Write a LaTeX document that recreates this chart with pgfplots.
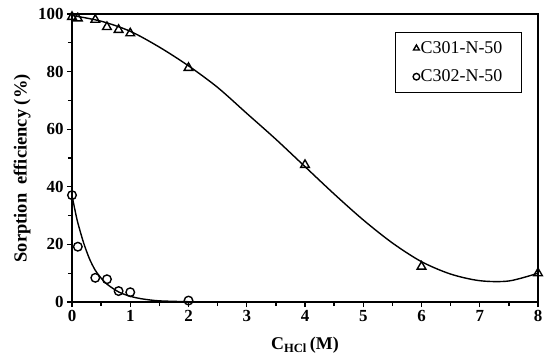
\documentclass[border=0pt]{standalone}
\usepackage{fontspec}
\setmainfont{Liberation Serif}
\usepackage{pgfplots}
\pgfplotsset{compat=1.18}
\begin{document}
\begin{tikzpicture}
\begin{axis}[
  scale only axis,
  width=466bp, height=288bp,
  xmin=0, xmax=8, ymin=0, ymax=100,
  xtick={0,1,...,8}, ytick={0,20,...,100},
  minor x tick num=1, minor y tick num=1,
  tick align=outside,
  major tick length=5bp, minor tick length=4bp,
  tick style={line width=1.3bp, black},
  axis line style={line width=1.4bp},
  xtick pos=bottom, ytick pos=left,
  /pgf/number format/assume math mode=true,
  ticklabel style={font=\bfseries\fontsize{17}{17}\selectfont},
  xlabel={\bfseries C\textsubscript{HCl}\,(M)},
  ylabel={\bfseries Sorption\ \ efficiency (\%)},
  xlabel style={font=\fontsize{18}{18}\selectfont, at={(axis description cs:0.5,-0.15)}, anchor=center},
  ylabel style={font=\fontsize{18.5}{18.5}\selectfont, at={(axis description cs:-0.107,0.464)}, anchor=center},
  legend style={at={(0.9657,0.9375)}, anchor=north east, draw=black, line width=1.2bp,
    font=\fontsize{18}{18}\selectfont, row sep=11bp, inner xsep=18bp, inner ysep=7bp,
    nodes={inner xsep=1bp}},
  legend image post style={mark size=3.3bp},
  legend cell align=left,
]
\addplot[black, line width=1.4bp, smooth, tension=0.5, forget plot] coordinates {
(0,99.5)(0.5,97.5)(1,94)(1.5,88.5)(2,82)(2.5,74.5)(3,65.5)(3.5,56.5)(4,47)(4.5,37.5)(5,28.5)(5.5,20.5)(6,14)(6.5,9.7)(7,7.4)(7.5,7.3)(8,10)};
\addplot[black, line width=1.4bp, smooth, tension=0.5, forget plot] coordinates {
(0,37)(0.05,32)(0.1,27.5)(0.2,20.5)(0.3,15)(0.4,11)(0.5,8.3)(0.6,6.2)(0.8,3.5)(1.0,2)(1.2,1.1)(1.5,0.4)(2,0.1)};
\addplot[only marks, mark=triangle, mark size=5bp, mark options={black, line width=1.4bp, fill=white}] coordinates {
(0,99)(0.1,98.5)(0.4,98)(0.6,95.5)(0.8,94.5)(1,93.3)(2,81.3)(4,47.6)(6,12.3)(8,10)};
\addlegendentry{C301-N-50}
\addplot[only marks, mark=o, mark size=4.3bp, mark options={black, line width=1.4bp, fill=white}] coordinates {
(0,37.1)(0.1,19.2)(0.4,8.4)(0.6,7.9)(0.8,3.8)(1,3.4)(2,0.5)};
\addlegendentry{C302-N-50}
\end{axis}
\pgfresetboundingbox
\path ([shift={(-72bp,-57bp)}]current axis.south west) rectangle ([shift={(12bp,14bp)}]current axis.north east);
\end{tikzpicture}
\end{document}
